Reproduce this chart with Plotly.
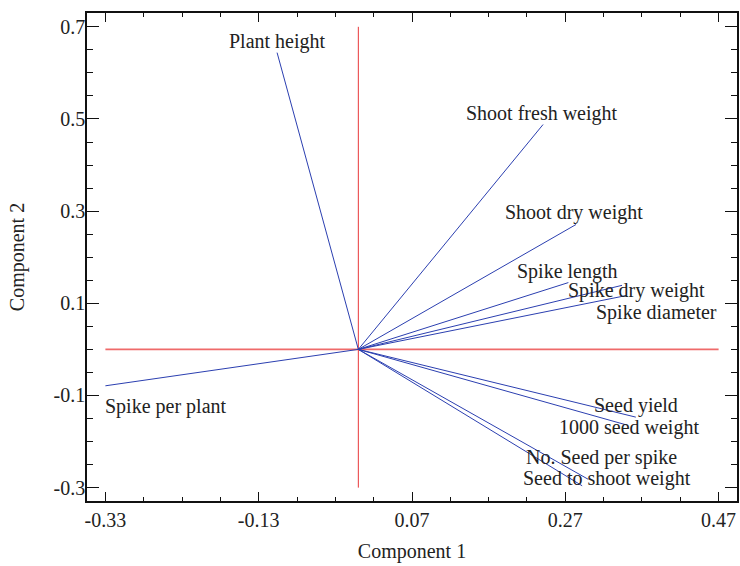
import plotly.graph_objects as go

# PCA loadings (component 1, component 2) for each trait
traits = [
    "Plant height", "Shoot fresh weight", "Shoot dry weight", "Spike length",
    "Spike dry weight", "Spike diameter", "Seed yield", "1000 seed weight",
    "No. Seed per spike", "Seed to shoot weight", "Spike per plant",
]
pc1 = [-0.106, 0.241, 0.284, 0.274, 0.344, 0.350, 0.362, 0.350, 0.300, 0.292, -0.330]
pc2 = [0.644, 0.488, 0.271, 0.145, 0.139, 0.117, -0.147, -0.164, -0.282, -0.296, -0.079]

x_ticks = [-0.33, -0.13, 0.07, 0.27, 0.47]
y_ticks = [-0.3, -0.1, 0.1, 0.3, 0.5, 0.7]

# label placement relative to the vector tip (pixels): xshift, yshift, anchor
label_offsets = {
    "Plant height": (0, 11, "center"),
    "Shoot fresh weight": (-1, 11, "center"),
    "Shoot dry weight": (-2, 12, "center"),
    "Spike length": (-1, 11, "center"),
    "Spike dry weight": (14, -5, "center"),
    "Spike diameter": (30, -17, "center"),
    "Seed yield": (0, 12, "center"),
    "1000 seed weight": (2, -3, "center"),
    "No. Seed per spike": (13, 22, "center"),
    "Seed to shoot weight": (25, 7, "center"),
    "Spike per plant": (-2, -21, "left"),
}

FONT = "Liberation Serif, Times New Roman, serif"
TXT = "#222222"
BLUE = "#2b3fb0"
RED = "#e8383a"

fig = go.Figure()

# reference axes through the origin
fig.add_trace(go.Scatter(x=[x_ticks[0], x_ticks[-1]], y=[0, 0], mode="lines",
                         line=dict(color="#ef6a6a", width=1.6), hoverinfo="skip"))
fig.add_trace(go.Scatter(x=[0, 0], y=[y_ticks[0], y_ticks[-1]], mode="lines",
                         line=dict(color=RED, width=1), hoverinfo="skip"))

# loading vectors
for name, a, b in zip(traits, pc1, pc2):
    fig.add_trace(go.Scatter(x=[0, a], y=[0, b], mode="lines", name=name,
                             line=dict(color=BLUE, width=1)))
    dx, dy, anchor = label_offsets[name]
    fig.add_annotation(x=a, y=b, text=name, showarrow=False,
                       xanchor=anchor, yanchor="middle", xshift=dx, yshift=dy,
                       font=dict(family=FONT, size=20, color=TXT))

axis_common = dict(
    showline=True, linecolor="#111111", linewidth=1.6, mirror="ticks",
    ticks="inside", tickcolor="#111111", tickwidth=1.4,
    showgrid=False, zeroline=False,
    tickfont=dict(family=FONT, size=20, color=TXT),
)

fig.update_layout(
    width=740, height=566,
    margin=dict(l=87, r=1, t=13, b=65),
    paper_bgcolor="white", plot_bgcolor="white",
    showlegend=False,
    xaxis=dict(range=[-0.354, 0.494], tickvals=x_ticks,
               ticktext=[f"{v:.2f}" for v in x_ticks], ticklen=9,
               minor=dict(dtick=0.05, tick0=0.07, ticks="inside", ticklen=4,
                          tickcolor="#111111", tickwidth=1.2),
               title=dict(text="Component 1", font=dict(family=FONT, size=20, color=TXT),
                          standoff=14),
               **axis_common),
    yaxis=dict(range=[-0.329, 0.730], tickvals=y_ticks,
               ticktext=[f"{v:.1f}" for v in y_ticks], ticklen=12,
               ticklabelstandoff=-4,
               minor=dict(dtick=0.05, tick0=0.1, ticks="inside", ticklen=6,
                          tickcolor="#111111", tickwidth=1.2),
               title=dict(text="Component 2", font=dict(family=FONT, size=20, color=TXT),
                          standoff=24),
               **axis_common),
)

fig.write_html("out.html")
